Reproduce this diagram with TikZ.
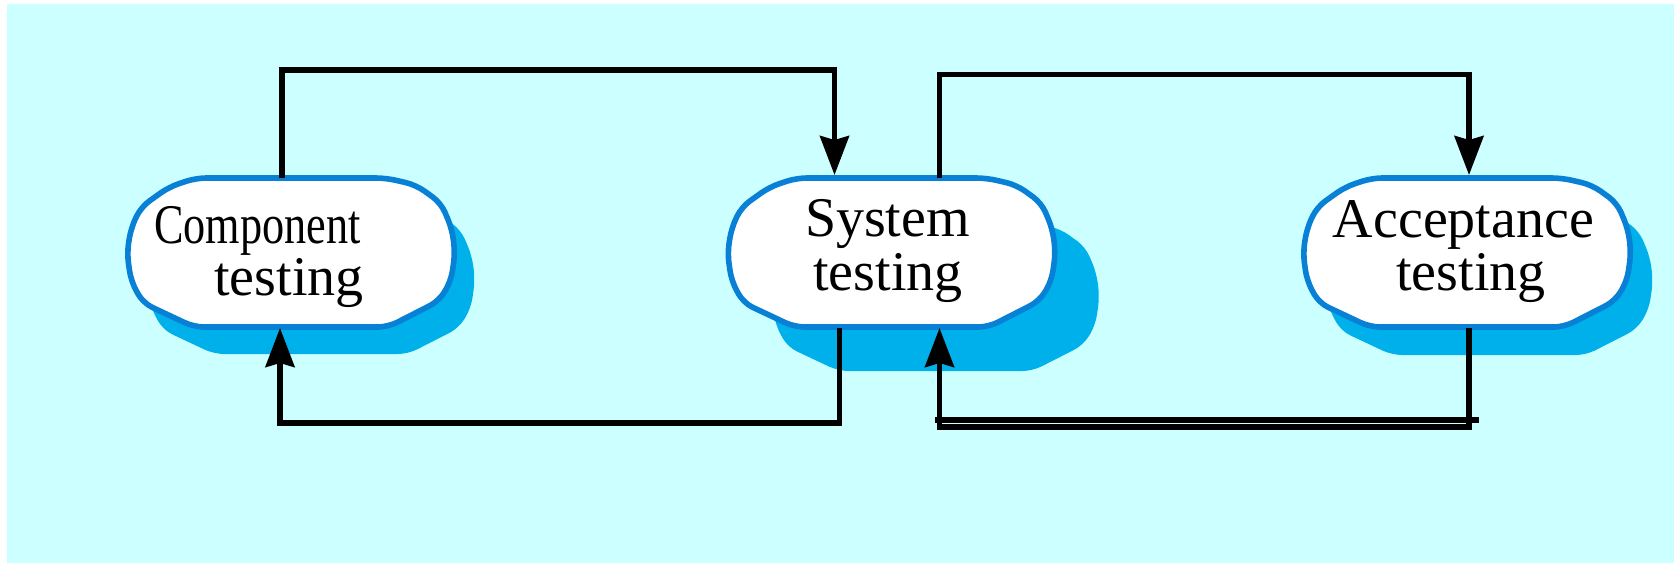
\documentclass[tikz,border=0pt]{standalone}
\usepackage{fontspec}
\setmainfont{Liberation Serif}
\usetikzlibrary{arrows.meta,calc}

\definecolor{bgcyan}{RGB}{204,255,255}
\definecolor{edgeblue}{RGB}{8,128,214}
\definecolor{shadowblue}{RGB}{0,176,234}

\tikzset{
  area/.style={minimum width=164pt, minimum height=75pt, inner sep=0pt, outer sep=0pt},
  lbl/.style={font=\fontsize{28pt}{27pt}\selectfont, inner sep=0pt, anchor=base},
  conn/.style={line width=2.6pt, black},
  tip/.style={-{Stealth[length=19.5pt, width=14.5pt, inset=2pt]}},
  % rounded octagonal stage box with a drop shadow, shadow offset given as x,y
  pics/blob/.style={code={
    \fill[shadowblue, shift={(#1)}, rounded corners=5pt]
      (-95,-75) -- (95,-75) -- (125,-68) -- (150,-50) -- (161,-24) -- (164,0)
      -- (160,28) -- (148,48) -- (97,74) -- (-97,74) -- (-148,50) -- (-160,28)
      -- (-164,0) -- (-160,-25) -- (-150,-46) -- (-122,-66) -- cycle;
    \filldraw[fill=white, draw=edgeblue, line width=2.8pt, line join=round, rounded corners=5pt]
      (-95,-75) -- (95,-75) -- (125,-68) -- (150,-50) -- (161,-24) -- (164,0)
      -- (160,28) -- (148,48) -- (97,74) -- (-97,74) -- (-148,50) -- (-160,28)
      -- (-164,0) -- (-160,-25) -- (-150,-46) -- (-122,-66) -- cycle;
  }}
}

\begin{document}
\begin{tikzpicture}[x=0.5pt, y=-0.5pt]
  \useasboundingbox (0,0) rectangle (1674,563);
  \fill[white] (0,0) rectangle (1674,563);
  \fill[bgcyan] (7,4) rectangle (1674,563);

  % stage areas (used as connector anchors)
  \node[area] (comp) at (291,253) {};
  \node[area] (sys)  at (891.5,253) {};
  \node[area] (acc)  at (1467,253) {};

  \pic at (comp) {blob={20,27}};
  \pic at (sys)  {blob={44,44}};
  \pic at (acc)  {blob={22,28}};

  % labels
  \node[lbl] (compA) at (257.5,243) {\scalebox{0.79}[1]{Component}};
  \node[lbl] (compB) at (289,295) {testing};
  \node[lbl] (sysA)  at (887.5,236) {System};
  \node[lbl] (sysB)  at (888,290) {testing};
  \node[lbl] (accA)  at (1463.5,237) {Acceptance};
  \node[lbl] (accB)  at (1471,290) {testing};

  % forward flow
  \draw[conn, tip] ($(comp.north)+(-9,0)$) -- ++(0,-108) -| ($(sys.north)+(-57,-3)$);
  \draw[conn, tip] ($(sys.north)+(48,0)$) -- ++(0,-103.5) -| ($(acc.north)+(2,-3)$);

  % feedback flow
  \draw[conn, tip] ($(sys.south)+(-52,0)$) -- ++(0,95) -| ($(comp.south)+(-11,0)$);
  \draw[conn, tip] ($(acc.south)+(2,0)$) -- ++(0,99) -| ($(sys.south)+(48,0)$);

  % doubled return rail
  \coordinate (railL) at (935,420);
  \coordinate (railR) at (1479,420);
  \draw[line width=2.6pt] (railL) -- (railR);
\end{tikzpicture}
\end{document}
